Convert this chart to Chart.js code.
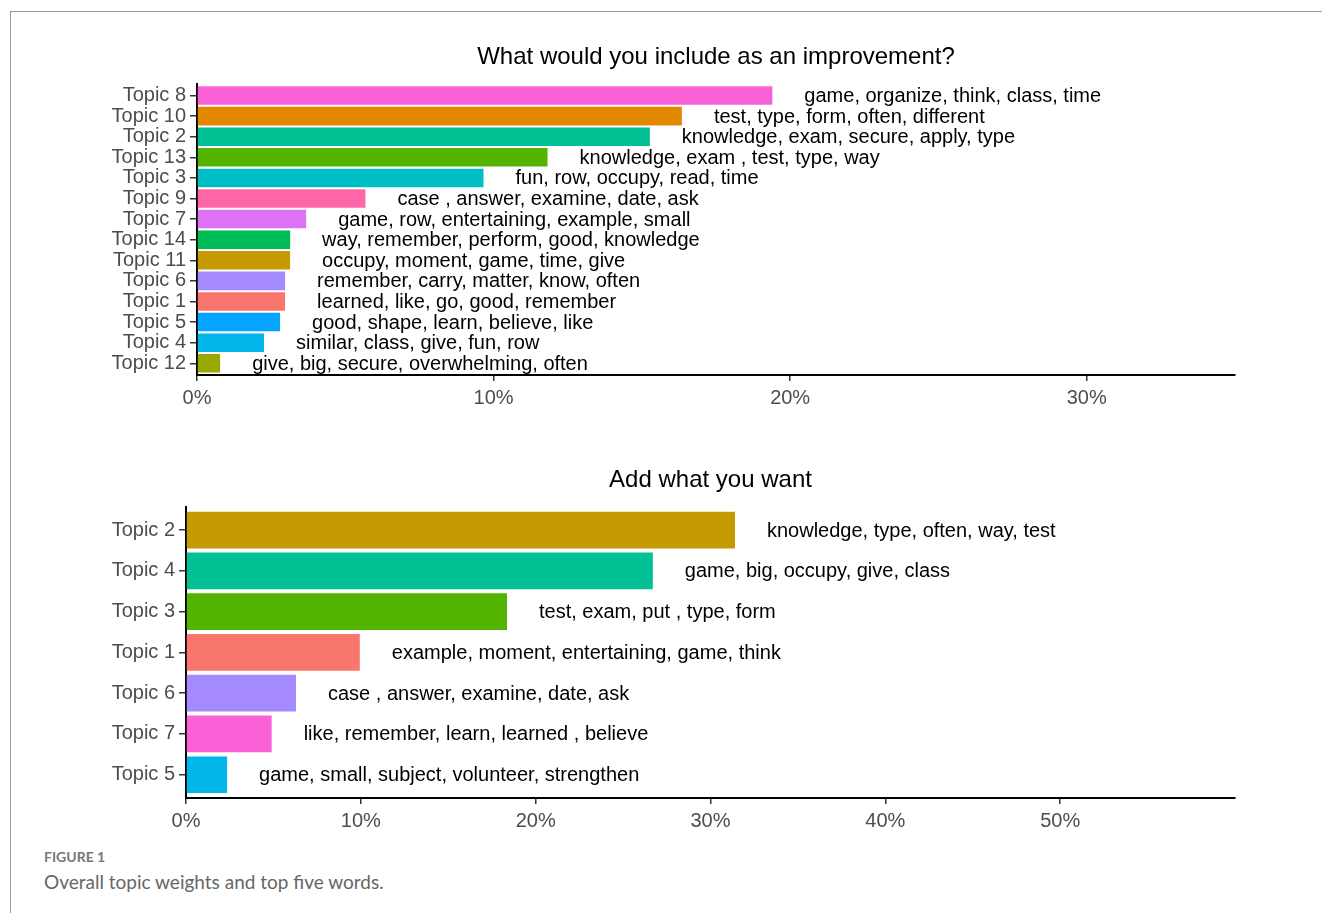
<!DOCTYPE html>
<html>
<head>
<meta charset="utf-8">
<script src="https://cdn.jsdelivr.net/npm/chart.js@4.4.0/dist/chart.umd.min.js"></script>
<style>
body{margin:0;background:#fff;width:1322px;height:913px;overflow:hidden;position:relative;font-family:"Liberation Sans",Arial,sans-serif}
#frame{position:absolute;left:10px;top:11px;width:1330px;height:920px;border-top:1px solid #999;border-left:1px solid #999}
canvas{position:absolute;left:0}
#c1{top:0}
#c2{top:420px}
#figno{position:absolute;left:44px;top:848px;font-family:Lato,"Open Sans",sans-serif;font-weight:700;font-size:14px;color:#777}
#figcap{position:absolute;left:44px;top:870px;font-family:Lato,"Open Sans",sans-serif;font-size:19px;color:#666}
</style>
</head>
<body>
<div id="frame"></div>
<canvas id="c1" width="1322" height="420"></canvas>
<canvas id="c2" width="1322" height="420"></canvas>
<div id="figno">FIGURE 1</div>
<div id="figcap">Overall topic weights and top five words.</div>
<script>
// top panel: "What would you include as an improvement?"
const topics1 = ["Topic 8","Topic 10","Topic 2","Topic 13","Topic 3","Topic 9","Topic 7","Topic 14","Topic 11","Topic 6","Topic 1","Topic 5","Topic 4","Topic 12"];
const weights1 = [19.4, 16.35, 15.27, 11.82, 9.66, 5.68, 3.68, 3.14, 3.14, 2.97, 2.97, 2.8, 2.26, 0.78];
const words1 = [
    "game, organize, think, class, time",
    "test, type, form, often, different",
    "knowledge, exam, secure, apply, type",
    "knowledge, exam , test, type, way",
    "fun, row, occupy, read, time",
    "case , answer, examine, date, ask",
    "game, row, entertaining, example, small",
    "way, remember, perform, good, knowledge",
    "occupy, moment, game, time, give",
    "remember, carry, matter, know, often",
    "learned, like, go, good, remember",
    "good, shape, learn, believe, like",
    "similar, class, give, fun, row",
    "give, big, secure, overwhelming, often"
];
const ticks1 = [0, 10, 20, 30];

// bottom panel: "Add what you want"
const topics2 = ["Topic 2","Topic 4","Topic 3","Topic 1","Topic 6","Topic 7","Topic 5"];
const weights2 = [31.4, 26.7, 18.36, 9.94, 6.29, 4.9, 2.35];
const words2 = [
    "knowledge, type, often, way, test",
    "game, big, occupy, give, class",
    "test, exam, put , type, form",
    "example, moment, entertaining, game, think",
    "case , answer, examine, date, ask",
    "like, remember, learn, learned , believe",
    "game, small, subject, volunteer, strengthen"
];
const ticks2 = [0, 10, 20, 30, 40, 50];

// ggplot hue colours per topic
const palette1 = {
    "Topic 1":"#F8766D","Topic 10":"#E38900","Topic 11":"#C49A00","Topic 12":"#99A800",
    "Topic 13":"#53B400","Topic 14":"#00BC56","Topic 2":"#00C094","Topic 3":"#00BFC4",
    "Topic 4":"#00B6EB","Topic 5":"#06A4FF","Topic 6":"#A58AFF","Topic 7":"#DF70F8",
    "Topic 8":"#FB61D7","Topic 9":"#FF66A8"
};
const palette2 = {
    "Topic 1":"#F8766D","Topic 2":"#C49A00","Topic 3":"#53B400","Topic 4":"#00C094",
    "Topic 5":"#00B6EB","Topic 6":"#A58AFF","Topic 7":"#FB61D7"
};

const FONT = '"Liberation Sans", Arial, sans-serif';

const wordLabels = {
    id: "wordLabels",
    afterDatasetsDraw(chart, args, opts) {
        const ctx = chart.ctx;
        ctx.save();
        ctx.font = "20px " + FONT;
        ctx.fillStyle = "#000";
        ctx.textBaseline = "middle";
        chart.getDatasetMeta(0).data.forEach((bar, i) => {
            ctx.fillText(opts.words[i], bar.x + 32, bar.y + 1);
        });
        ctx.restore();
    }
};

function makeChart(canvasId, cats, vals, words, palette, tickVals, titleText, xMax, yWidth, padTop, padBottom) {
    return new Chart(document.getElementById(canvasId), {
        type: "bar",
        data: {
            labels: cats,
            datasets: [{
                data: vals,
                backgroundColor: cats.map(c => palette[c]),
                borderWidth: 0,
                barPercentage: 0.9,
                categoryPercentage: 1
            }]
        },
        options: {
            indexAxis: "y",
            responsive: false,
            animation: false,
            layout: { padding: { left: 0, right: 87, top: padTop, bottom: padBottom } },
            plugins: {
                legend: { display: false },
                tooltip: { enabled: false },
                title: {
                    display: true,
                    text: titleText,
                    color: "#000",
                    fullSize: false,
                    font: { family: FONT, size: 24, weight: "normal" },
                    padding: { top: 0, bottom: 12 }
                },
                wordLabels: { words: words }
            },
            scales: {
                x: {
                    min: 0,
                    max: xMax,
                    ticks: {
                        stepSize: 10,
                        color: "#4d4d4d",
                        font: { family: FONT, size: 20 },
                        padding: 5,
                        callback: v => v + "%"
                    },
                    afterBuildTicks: s => { s.ticks = tickVals.map(v => ({ value: v })); },
                    afterFit: s => { s.height = 40; },
                    grid: { drawOnChartArea: false, tickLength: 6, color: "#333", lineWidth: 1.5 },
                    border: { color: "#000", width: 2 }
                },
                y: {
                    offset: false,
                    ticks: {
                        autoSkip: false,
                        color: "#4d4d4d",
                        font: { family: FONT, size: 20, lineHeight: 1 },
                        padding: 4
                    },
                    // ggplot-like category padding at both ends
                    afterBuildTicks: s => {
                        s._startValue = -0.57;
                        s._valueRange = s.ticks.length - 1 + 1.14;
                    },
                    afterFit: s => { s.width = yWidth; },
                    grid: { offset: false, drawOnChartArea: false, tickLength: 7, color: "#333", lineWidth: 1.5 },
                    border: { color: "#000", width: 2 }
                }
            }
        },
        plugins: [wordLabels]
    });
}

makeChart("c1", topics1, weights1, words1, palette1, ticks1, "What would you include as an improvement?", 35, 197, 43, 5);
makeChart("c2", topics2, weights2, words2, palette2, ticks2, "Add what you want", 60, 186, 46, 2);
</script>
</body>
</html>
